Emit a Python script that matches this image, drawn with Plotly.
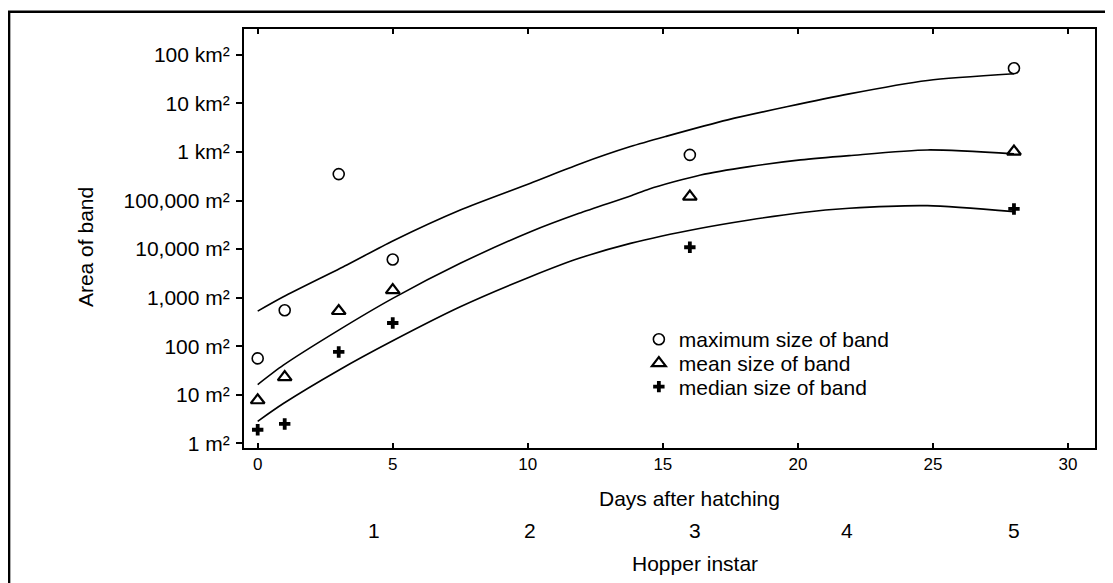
import plotly.graph_objects as go

# ---- data ----
days = [0, 1, 3, 5, 16, 28]
max_area = [56, 550, 350000, 6100, 870000, 53000000]
mean_area = [7.7, 23, 530, 1430, 120000, 1020000]
median_area = [1.9, 2.5, 76, 300, 10900, 67000]

max_curve_days = [0, 0.95, 3.3, 5, 7.5, 10.1, 11.9, 13.8, 15.1, 17.4, 21.9, 24.8, 28]
max_curve_area = [527, 1040, 4700, 14700, 63800, 227000, 560000, 1290000, 2080000,
                  4580000, 15700000, 29700000, 40700000]

mean_curve_days = [0, 0.95, 3.0, 5, 7.5, 10.1, 11.9, 13.8, 14.5, 16.4, 18.2, 20.1, 21.9, 24.8, 28]
mean_curve_area = [16.2, 40.6, 214, 964, 5080, 22800, 54600, 124000, 173000, 336000,
                   499000, 686000, 841000, 1100000, 912000]

median_curve_days = [0, 0.95, 3.0, 5, 7.5, 10.1, 11.9, 13.8, 16.4, 18.2, 20.1, 21.9, 24.8, 28]
median_curve_area = [2.84, 6.59, 32, 129, 647, 2690, 6440, 13100, 26800, 39700, 56100,
                     69200, 78300, 58900]

x_ticks = [0, 5, 10, 15, 20, 25, 30]
y_tickvals = [1, 10, 100, 1000, 10000, 100000, 1e6, 1e7, 1e8]
y_ticktext = ["1 m²", "10 m²", "100 m²", "1,000 m²", "10,000 m²", "100,000 m²",
              "1 km²", "10 km²", "100 km²"]

instar_labels = ["1", "2", "3", "4", "5"]
instar_pos = [4.3, 10.1, 16.2, 21.8, 28.0]

FONT = "Liberation Sans, Arial, Helvetica, sans-serif"
BLACK = "#000000"

fig = go.Figure()

for cx, cy in [(max_curve_days, max_curve_area),
               (mean_curve_days, mean_curve_area),
               (median_curve_days, median_curve_area)]:
    fig.add_trace(go.Scatter(x=cx, y=cy, mode="lines",
                             line=dict(color=BLACK, width=1.6, shape="spline", smoothing=0.7),
                             showlegend=False, hoverinfo="skip"))

fig.add_trace(go.Scatter(x=days, y=max_area, mode="markers", name="maximum size of band",
                         legend="legend",
                         marker=dict(symbol="circle-open", size=11, color=BLACK,
                                     line=dict(color=BLACK, width=1.6))))
fig.add_trace(go.Scatter(x=days, y=mean_area, mode="markers", name="mean size of band",
                         legend="legend2",
                         marker=dict(symbol="triangle-up-open", size=12, color=BLACK,
                                     line=dict(color=BLACK, width=2.2))))
fig.add_trace(go.Scatter(x=days, y=median_area, mode="markers", name="median size of band",
                         legend="legend3",
                         marker=dict(symbol="cross", size=9.5, color=BLACK,
                                     line=dict(width=0))))

# page body has an 8px margin; work in screen pixels and convert
OFF = 8
L, R, T, B = 236, 17.7, 21.3, 135.3
W, H = 1105, 575
pw = W - L - R
ph = H - T - B

def px_x(p):
    return (p - OFF - L) / pw

def px_y(p):
    return (H - B - (p - OFF)) / ph

TF = dict(size=21, color=BLACK, family=FONT)
annotations = [
    dict(text="Days after hatching", x=16, xref="x", y=px_y(498), yref="paper",
         showarrow=False, font=TF, xanchor="center", yanchor="middle"),
    dict(text="Hopper instar", x=16.2, xref="x", y=px_y(563), yref="paper",
         showarrow=False, font=TF, xanchor="center", yanchor="middle"),
    dict(text="Area of band", x=px_x(85), xref="paper", y=px_y(247), yref="paper",
         textangle=-90, showarrow=False, font=TF, xanchor="center", yanchor="middle"),
]
for lab, pos in zip(instar_labels, instar_pos):
    annotations.append(dict(text=lab, x=pos, xref="x", y=px_y(530), yref="paper",
                            showarrow=False, font=TF, xanchor="center", yanchor="middle"))

def leg(row_y):
    return dict(x=px_x(639), y=px_y(row_y), xanchor="left", yanchor="middle",
                bgcolor="rgba(0,0,0,0)", borderwidth=0, font=TF, itemsizing="trace")

fig.update_layout(
    width=W, height=H,
    margin=dict(l=L, r=R, t=T, b=B, pad=0),
    paper_bgcolor="white", plot_bgcolor="white",
    font=dict(family=FONT, color=BLACK, size=18),
    showlegend=True,
    legend=leg(339.5), legend2=leg(363.3), legend3=leg(386.8),
    annotations=annotations,
    shapes=[dict(type="rect", xref="paper", yref="paper",
                 x0=px_x(9), x1=3, y0=-3, y1=px_y(12),
                 line=dict(color=BLACK, width=2.5), layer="below")],
)

fig.update_xaxes(
    range=[-0.507, 31.0], tickvals=x_ticks, ticks="inside", ticklen=5, tickwidth=2,
    tickcolor=BLACK, showline=True, linewidth=2, linecolor=BLACK, mirror="ticks",
    showgrid=False, zeroline=False, tickfont=dict(size=17, color=BLACK, family=FONT),
)
fig.update_yaxes(
    type="log", range=[-0.097, 8.532], tickvals=y_tickvals, ticktext=y_ticktext,
    ticks="outside", ticklen=6, tickwidth=2, tickcolor=BLACK,
    showline=True, linewidth=2, linecolor=BLACK, mirror=True,
    showgrid=False, zeroline=False, tickfont=dict(size=21, color=BLACK, family=FONT),
    ticklabelstandoff=2,
)

fig.write_html("out.html")
